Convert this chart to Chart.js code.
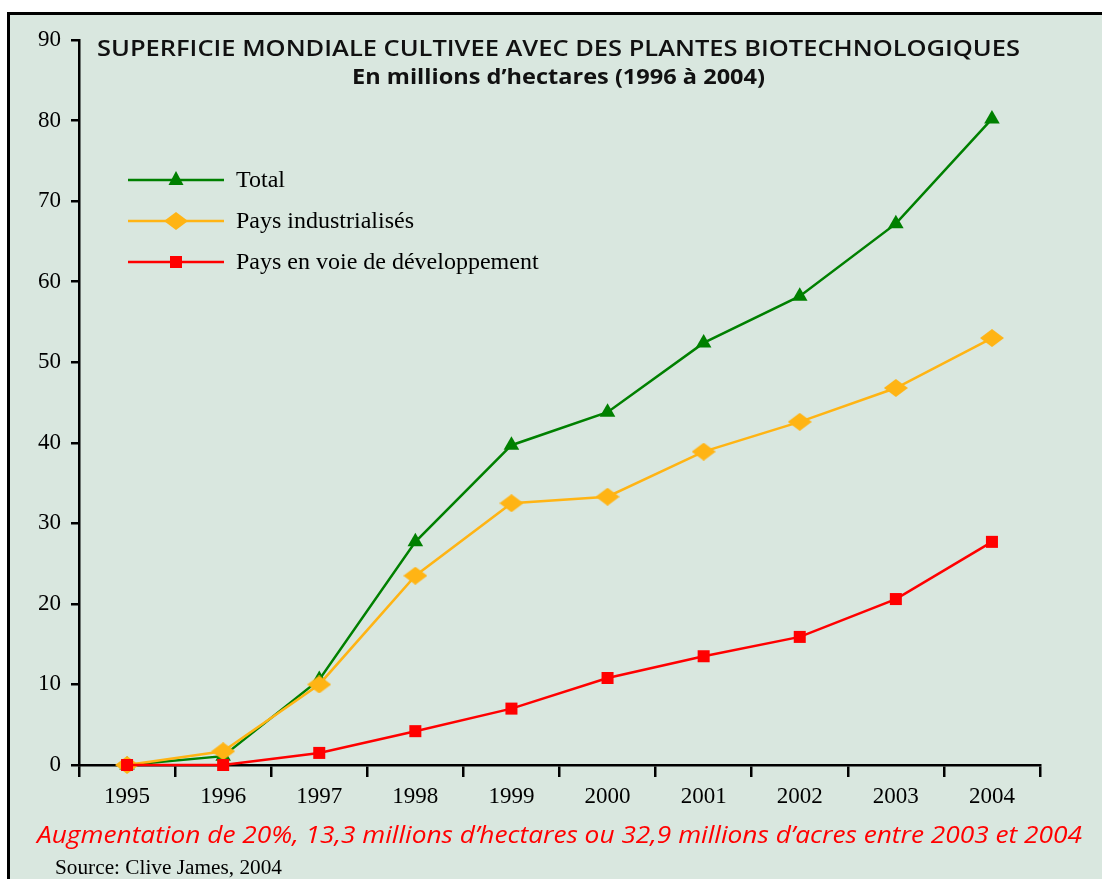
<!DOCTYPE html>
<html>
<head>
<meta charset="utf-8">
<script src="https://cdn.jsdelivr.net/npm/chart.js@4.4.1/dist/chart.umd.min.js"></script>
<style>
  html, body { margin: 0; padding: 0; background: #fff; overflow: hidden; }
  canvas { display: block; }
</style>
</head>
<body>
<canvas id="chart" width="1102" height="879"></canvas>
<script>
// Superficie mondiale cultivee avec des plantes biotechnologiques (millions d'ha)
const years = ['1995', '1996', '1997', '1998', '1999', '2000', '2001', '2002', '2003', '2004'];
const total = [0, 1.1, 10.6, 27.7, 39.7, 43.8, 52.4, 58.2, 67.2, 80.2];
const industrialises = [0, 1.7, 10.0, 23.5, 32.5, 33.3, 38.9, 42.6, 46.8, 53.0];
const developpement = [0, 0, 1.5, 4.2, 7.0, 10.8, 13.5, 15.9, 20.6, 27.7];
const seriesNames = ['Total', 'Pays industrialisés', 'Pays en voie de développement'];
const yMax = 90;
const yStep = 10;

const titleText = 'SUPERFICIE MONDIALE CULTIVEE AVEC DES PLANTES BIOTECHNOLOGIQUES';
const subtitleText = 'En millions d\u2019hectares (1996 à 2004)';
const noteText = 'Augmentation de 20%, 13,3 millions d\u2019hectares ou 32,9 millions d\u2019acres entre 2003 et 2004';
const sourceText = 'Source: Clive James, 2004';

const GREEN = '#008000';
const ORANGE = '#ffb414';
const RED = '#ff0000';
const BG = '#d9e7df';
const SERIF = '"Liberation Serif", "Times New Roman", serif';
const SANS = '"Open Sans", Lato, sans-serif';

function makeDiamond(color, w, h) {
    const c = document.createElement('canvas');
    c.width = w; c.height = h;
    const g = c.getContext('2d');
    g.fillStyle = color;
    g.beginPath();
    g.moveTo(w / 2, 0);
    g.lineTo(w, h / 2);
    g.lineTo(w / 2, h);
    g.lineTo(0, h / 2);
    g.closePath();
    g.fill();
    return c;
}
const diamond = makeDiamond(ORANGE, 24, 18);

// draw text stretched horizontally to a given width
function fitText(ctx, text, x, y, width) {
    const w = ctx.measureText(text).width;
    ctx.save();
    ctx.translate(x, y);
    ctx.scale(width / w, 1);
    ctx.textAlign = 'left';
    ctx.fillText(text, 0, 0);
    ctx.restore();
}

function drawMarker(ctx, style, color, x, y) {
    ctx.fillStyle = color;
    if (style === 'triangle') {
        ctx.beginPath();
        ctx.moveTo(x, y - 9);
        ctx.lineTo(x + 7.5, y + 5);
        ctx.lineTo(x - 7.5, y + 5);
        ctx.closePath();
        ctx.fill();
    } else if (style === 'rect') {
        ctx.fillRect(x - 6, y - 6, 12, 12);
    } else {
        ctx.drawImage(style, x - style.width / 2, y - style.height / 2);
    }
}

const decor = {
    id: 'decor',
    beforeDraw(chart) {
        const ctx = chart.ctx;
        ctx.save();
        ctx.fillStyle = '#fff';
        ctx.fillRect(0, 0, chart.width, chart.height);
        ctx.fillStyle = BG;
        ctx.fillRect(7, 12, chart.width - 7, chart.height - 12);
        ctx.fillStyle = '#000';
        ctx.fillRect(7, 12, chart.width - 7, 3);
        ctx.fillRect(7, 12, 3, chart.height - 12);
        ctx.restore();
    },
    afterDraw(chart) {
        const ctx = chart.ctx;
        ctx.save();
        ctx.textBaseline = 'alphabetic';

        ctx.fillStyle = '#111';
        ctx.font = '600 21px ' + SANS;
        fitText(ctx, titleText, 97, 56, 923);
        ctx.font = 'bold 21px ' + SANS;
        fitText(ctx, subtitleText, 352, 84, 413);

        ctx.fillStyle = RED;
        ctx.font = 'italic 23px ' + SANS;
        fitText(ctx, noteText, 37, 843, 1045);

        ctx.fillStyle = '#000';
        ctx.font = '20px ' + SERIF;
        fitText(ctx, sourceText, 55, 874, 227);

        // legend inside the plot
        chart.data.datasets.forEach((ds, i) => {
            const y = 180 + i * 41;
            ctx.strokeStyle = ds.borderColor;
            ctx.lineWidth = 2.5;
            ctx.beginPath();
            ctx.moveTo(128, y);
            ctx.lineTo(224, y);
            ctx.stroke();
            drawMarker(ctx, ds.pointStyle, ds.borderColor, 176, y);
            ctx.fillStyle = '#000';
            ctx.font = '24px ' + SERIF;
            ctx.textAlign = 'left';
            ctx.textBaseline = 'middle';
            ctx.fillText(ds.label, 236, y + 1);
        });
        ctx.restore();
    }
};

new Chart(document.getElementById('chart').getContext('2d'), {
    type: 'line',
    data: {
        labels: years,
        datasets: [
            {
                label: seriesNames[0],
                data: total,
                borderColor: GREEN,
                backgroundColor: GREEN,
                borderWidth: 2.5,
                pointStyle: 'triangle',
                pointRadius: 9,
                pointBorderWidth: 0,
                order: 3
            },
            {
                label: seriesNames[1],
                data: industrialises,
                borderColor: ORANGE,
                backgroundColor: ORANGE,
                borderWidth: 2.5,
                pointStyle: diamond,
                pointRadius: 9,
                order: 2
            },
            {
                label: seriesNames[2],
                data: developpement,
                borderColor: RED,
                backgroundColor: RED,
                borderWidth: 2.5,
                pointStyle: 'rect',
                pointRadius: 8.5,
                pointBorderWidth: 0,
                order: 1
            }
        ]
    },
    options: {
        responsive: false,
        animation: false,
        clip: false,
        layout: { padding: { top: 40, right: 62, bottom: 0, left: 0 } },
        elements: { line: { tension: 0 } },
        plugins: {
            legend: { display: false },
            title: { display: false },
            tooltip: { enabled: false }
        },
        scales: {
            x: {
                offset: true,
                ticks: {
                    color: '#000',
                    font: { family: SERIF, size: 23 },
                    padding: 6,
                    maxRotation: 0
                },
                grid: {
                    offset: true,
                    drawOnChartArea: false,
                    tickLength: 12,
                    color: '#000',
                    lineWidth: 2.5
                },
                border: { color: '#000', width: 2.5 },
                afterFit: (s) => { s.height = 114; }
            },
            y: {
                min: 0,
                max: yMax,
                ticks: {
                    stepSize: yStep,
                    color: '#000',
                    font: { family: SERIF, size: 23 },
                    padding: 10
                },
                grid: {
                    drawOnChartArea: false,
                    tickLength: 8,
                    color: '#000',
                    lineWidth: 2.5
                },
                border: { color: '#000', width: 2.5 },
                afterFit: (s) => { s.width = 79; }
            }
        }
    },
    plugins: [decor]
});
</script>
</body>
</html>
